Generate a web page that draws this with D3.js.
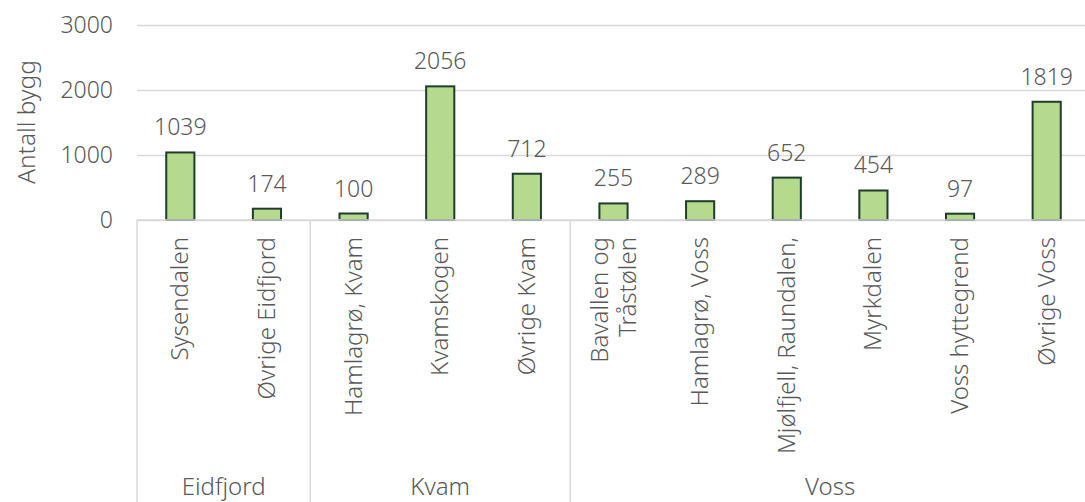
<!DOCTYPE html>
<html>
<meta charset="utf-8">
<head>
  <script src="https://d3js.org/d3.v7.min.js"></script>
  <style>
  body { margin: 0; background: #fff; }
  svg { display: block; font-family: "Noto Sans", sans-serif; font-weight: 300; }
  .grid line { stroke: #d9d9d9; stroke-width: 1.5px; }
  .grid path { display: none; }
  .grid .tick text { font-family: "Noto Sans", sans-serif; }
  .tick text, .cat, .grp, .val, .ytitle { fill: #595959; }
  .bar { fill: #b5d98d; stroke: #1f3d2c; stroke-width: 2px; }
  .sep { stroke: #d9d9d9; stroke-width: 1.5px; }
  </style>
</head>
<body>
<div id="chart"></div>
<script>

// data
var groups = ["Eidfjord", "Kvam", "Voss"]
var groupSizes = [2, 3, 6]
var categories = ["Sysendalen", "Øvrige Eidfjord",
                  "Hamlagrø, Kvam", "Kvamskogen", "Øvrige Kvam",
                  "Bavallen og|Tråstølen", "Hamlagrø, Voss", "Mjølfjell, Raundalen,",
                  "Myrkdalen", "Voss hyttegrend", "Øvrige Voss"]
var values = [1039, 174, 100, 2056, 712, 255, 289, 652, 454, 97, 1819]
var yTicks = [0, 1000, 2000, 3000]

var W = 1085, H = 502
var margin = {top: 25, left: 137, bottom: 282}
var plotRight = 1090
var y0 = H - margin.bottom

var x = d3.scaleBand()
  .domain(d3.range(categories.length))
  .range([margin.left, plotRight])
  .paddingInner(0.675)
  .paddingOuter(0.3375)

var y = d3.scaleLinear().domain([0, 3000]).range([y0, margin.top])

var svg = d3.select("#chart").append("svg")
  .attr("width", W).attr("height", H)

// grid + y ticks
var yAxis = svg.append("g")
  .attr("class", "grid")
  .attr("transform", "translate(" + margin.left + ",0)")
  .call(d3.axisLeft(y).tickValues(yTicks).tickFormat(d3.format("d"))
    .tickSize(-(plotRight - margin.left)).tickPadding(24))

yAxis.attr("font-family", null).attr("font-size", null)
yAxis.selectAll(".tick text").style("font-size", "23px")

svg.append("text")
  .attr("class", "ytitle")
  .attr("transform", "translate(35," + 122 + ") rotate(-90)")
  .attr("text-anchor", "middle")
  .style("font-size", "24.5px")
  .text("Antall bygg")

// bars
svg.selectAll(".bar").data(values).enter()
  .append("rect")
    .attr("class", "bar")
    .attr("x", function(d, i) { return x(i) })
    .attr("width", x.bandwidth())
    .attr("y", function(d) { return y(d) })
    .attr("height", function(d) { return y0 - y(d) })

svg.selectAll(".val").data(values).enter()
  .append("text")
    .attr("class", "val")
    .attr("x", function(d, i) { return x(i) + x.bandwidth() / 2 })
    .attr("y", function(d) { return y(d) - 17 })
    .attr("text-anchor", "middle")
    .style("font-size", "23px")
    .text(function(d) { return d })

// category labels (rotated)
var step = x.step()
categories.forEach(function(c, i) {
  var lines = c.split("|")
  var cx = x(i) + x.bandwidth() / 2
  lines.forEach(function(l, j) {
    var off = (j - (lines.length - 1) / 2) * 28
    svg.append("text")
      .attr("class", "cat")
      .attr("transform", "translate(" + (cx + off + 8) + "," + (y0 + 17) + ") rotate(-90)")
      .attr("text-anchor", "end")
      .style("font-size", "24px")
      .text(l)
  })
})

// axis line + group separators
svg.append("line").attr("class", "sep")
  .attr("x1", margin.left).attr("x2", plotRight)
  .attr("y1", y0).attr("y2", y0)

var start = 0
var bounds = [0]
groupSizes.forEach(function(n) { start += n; bounds.push(start) })

bounds.forEach(function(b) {
  var bx = b < categories.length ? x(b) - x.paddingOuter() * step : plotRight
  if (b > 0 && b < categories.length) bx = x(b) - x.paddingInner() * step / 2
  svg.append("line").attr("class", "sep")
    .attr("x1", bx).attr("x2", bx)
    .attr("y1", y0).attr("y2", H)
})

groups.forEach(function(g, i) {
  var a = bounds[i], b = bounds[i + 1]
  var left = x(a) - x.paddingInner() * step / 2
  var right = x(b - 1) + x.bandwidth() + x.paddingInner() * step / 2
  svg.append("text")
    .attr("class", "grp")
    .attr("x", (left + right) / 2)
    .attr("y", 495)
    .attr("text-anchor", "middle")
    .style("font-size", "24px")
    .text(g)
})

</script>
</body>
</html>
